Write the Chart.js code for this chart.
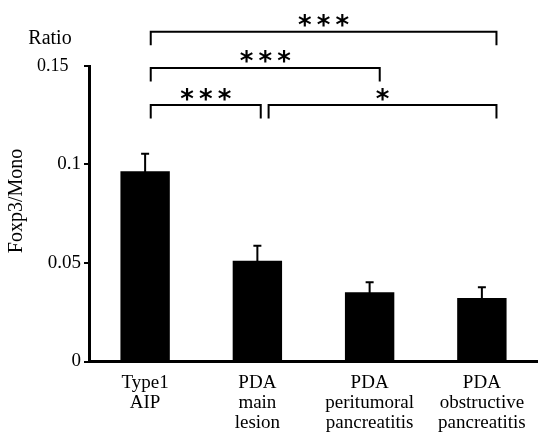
<!DOCTYPE html>
<html>
<head>
<meta charset="utf-8">
<script src="https://cdn.jsdelivr.net/npm/chart.js@4/dist/chart.umd.min.js"></script>
<style>
  html, body { margin: 0; padding: 0; background: #ffffff; }
  #wrap { width: 538px; height: 434px; position: relative; }
</style>
</head>
<body>
<div id="wrap"><canvas id="c"></canvas></div>
<script>
// ---- data ----
const categories = [["Type1", "AIP"], ["PDA", "main", "lesion"], ["PDA", "peritumoral", "pancreatitis"], ["PDA", "obstructive", "pancreatitis"]];
const meanValues = [0.0966, 0.0512, 0.0352, 0.0322];
const errorValues = [0.0088, 0.0076, 0.0050, 0.0055];
const tickValues = [0, 0.05, 0.1, 0.15];
const tickLabels = ["0", "0.05", "0.1", "0.15"];
const unitLabel = "Ratio";
const axisTitle = "Foxp3/Mono";
// significance brackets (category index units for ends, data units for level)
const bracketFrom = [0.05, 0.05, 0.05, 1.10];
const bracketTo = [3.13, 2.09, 1.03, 3.13];
const bracketLevel = [0.1674, 0.1490, 0.1302, 0.1302];
const bracketStars = ["***", "***", "***", "*"];

const SERIF = "'Liberation Serif', 'Times New Roman', serif";

function catPixel(xs, v) {
  const i = Math.floor(v);
  const f = v - i;
  const p0 = xs.getPixelForValue(i);
  const step = (categories.length > 1) ? (xs.getPixelForValue(1) - xs.getPixelForValue(0)) : 0;
  return p0 + f * step;
}

const annotationsPlugin = {
  id: 'annot',
  afterDatasetsDraw(chart) {
    const ctx = chart.ctx;
    const xs = chart.scales.x, ys = chart.scales.y;
    const meta = chart.getDatasetMeta(0);
    ctx.save();
    // error bars (upper only)
    ctx.strokeStyle = '#000';
    ctx.lineWidth = 2;
    meta.data.forEach((bar, i) => {
      const x = bar.x;
      const yb = ys.getPixelForValue(meanValues[i]);
      const yt = ys.getPixelForValue(meanValues[i] + errorValues[i]);
      ctx.beginPath();
      ctx.moveTo(x, yb + 1);
      ctx.lineTo(x, yt);
      ctx.moveTo(x - 4, yt);
      ctx.lineTo(x + 4, yt);
      ctx.stroke();
    });
    // brackets
    ctx.lineWidth = 2;
    for (let k = 0; k < bracketLevel.length; k++) {
      const x1 = catPixel(xs, bracketFrom[k]);
      const x2 = catPixel(xs, bracketTo[k]);
      const y = ys.getPixelForValue(bracketLevel[k]);
      ctx.beginPath();
      ctx.moveTo(x1, y + 13.5);
      ctx.lineTo(x1, y);
      ctx.lineTo(x2, y);
      ctx.lineTo(x2, y + 13.5);
      ctx.stroke();
      // stars
      ctx.fillStyle = '#000';
      ctx.font = "bold 26px 'DejaVu Sans', sans-serif";
      ctx.textAlign = 'center';
      ctx.textBaseline = 'alphabetic';
      const txt = bracketStars[k].split('').join('\u2009');
      const m = ctx.measureText(txt);
      const cy = y - 11;
      const asc = m.actualBoundingBoxAscent, desc = m.actualBoundingBoxDescent;
      ctx.fillText(txt, (x1 + x2) / 2, cy + (asc - desc) / 2);
    }
    // unit label and axis title
    ctx.fillStyle = '#000';
    ctx.font = "20px " + SERIF;
    ctx.textAlign = 'center';
    ctx.textBaseline = 'middle';
    ctx.fillText(unitLabel, 50, 39);
    ctx.save();
    ctx.translate(17, 201);
    ctx.rotate(-Math.PI / 2);
    ctx.font = "20px " + SERIF;
    ctx.fillText(axisTitle, 0, 0);
    ctx.restore();
    ctx.restore();
  }
};

new Chart(document.getElementById('c'), {
  type: 'bar',
  data: {
    labels: categories,
    datasets: [{
      data: meanValues,
      backgroundColor: '#000000',
      borderWidth: 0,
      barPercentage: 0.44,
      categoryPercentage: 1.0
    }]
  },
  options: {
    responsive: true,
    maintainAspectRatio: false,
    devicePixelRatio: 1,
    animation: false,
    events: [],
    layout: { padding: { top: 66, left: 0, right: 0, bottom: 0 } },
    plugins: { legend: { display: false }, tooltip: { enabled: false } },
    scales: {
      x: {
        grid: { display: false, drawTicks: false },
        border: { display: true, color: '#000', width: 3 },
        ticks: {
          color: '#000',
          padding: 12,
          maxRotation: 0,
          autoSkip: false,
          font: { family: SERIF, size: 19, lineHeight: 1.05 }
        },
        afterFit(scale) { scale.height = 72.5; }
      },
      y: {
        min: 0,
        max: 0.15,
        afterBuildTicks(scale) { scale.ticks = tickValues.map(v => ({ value: v })); },
        grid: { display: true, drawOnChartArea: false, drawTicks: true, tickLength: 5, color: '#000', lineWidth: 2 },
        border: { display: true, color: '#000', width: 3 },
        ticks: {
          color: '#000',
          padding: 3,
          font: (c) => ({ family: SERIF, size: (c.tick && c.tick.value === 0.15) ? 18 : 19 }),
          callback: (v) => {
            const i = tickValues.indexOf(v);
            const s = i >= 0 ? tickLabels[i] : '';
            return v === 0.15 ? s + '\u2002\u2009' : s;
          }
        },
        afterFit(scale) { scale.width = 89; }
      }
    }
  },
  plugins: [annotationsPlugin]
});
</script>
</body>
</html>
